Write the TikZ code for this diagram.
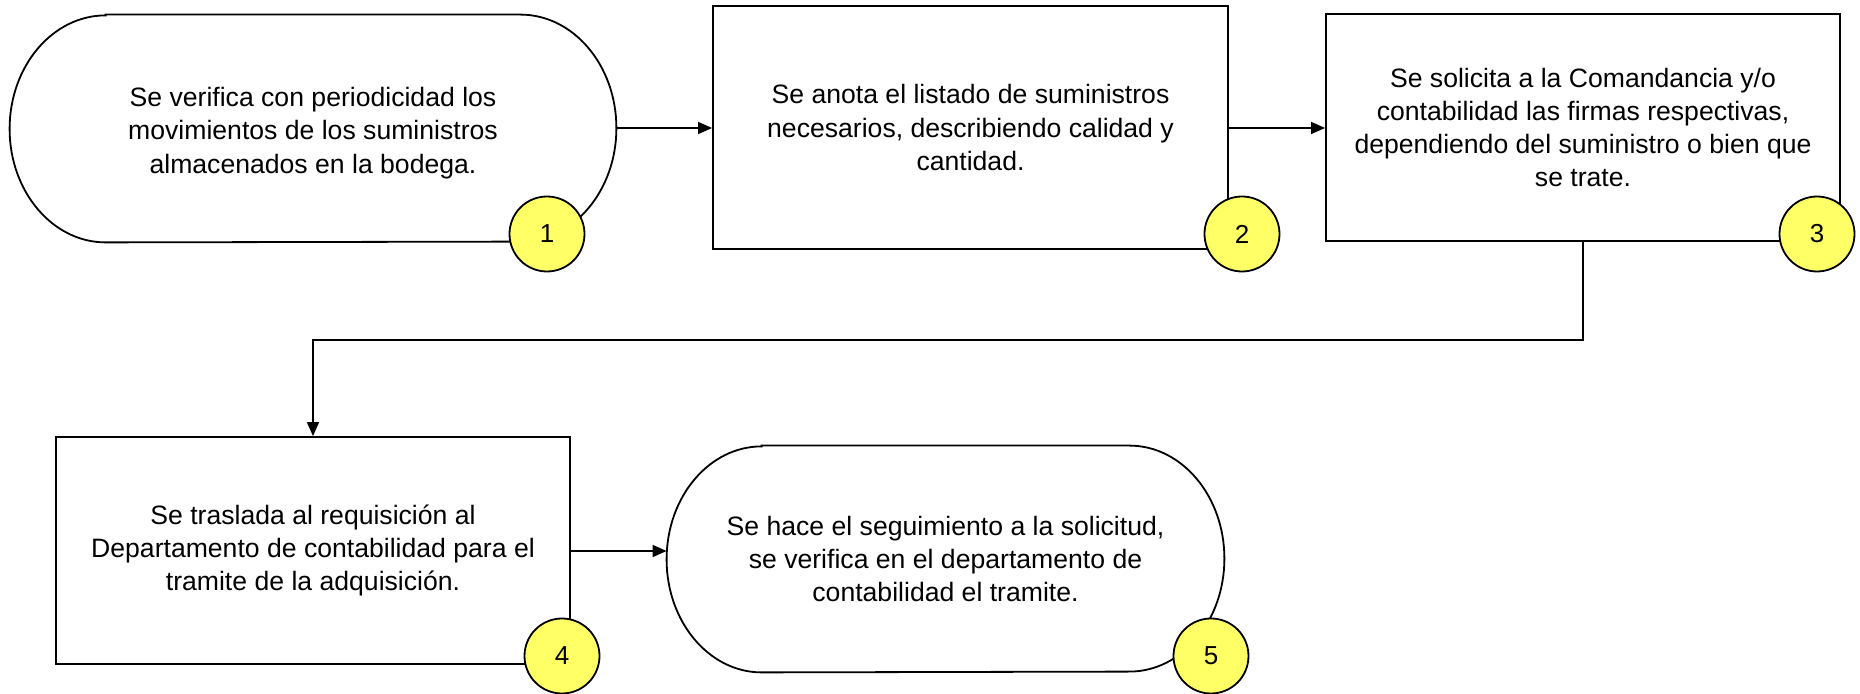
\documentclass[tikz,border=0pt]{standalone}
\usepackage{fontspec}
\setmainfont{Liberation Sans}
\usetikzlibrary{arrows.meta,calc}
\definecolor{badgeyellow}{RGB}{255,255,102}
\tikzset{
  ghost/.style={inner sep=0pt},
  txt/.style={align=center, font=\fontsize{13.3pt}{16.6pt}\selectfont},
  badge/.style={circle, draw, line width=0.9pt, fill=badgeyellow, minimum size=37.5pt, inner sep=0pt, font=\fontsize{13pt}{15pt}\selectfont},
  arr/.style={line width=0.8pt, -{Triangle[length=7pt,width=6pt]}},
  outline/.style={line width=0.9pt},
  boxed/.style={draw, line width=0.9pt, inner sep=0pt}
}
\begin{document}
\begin{tikzpicture}[x=0.5pt,y=-0.5pt]
\useasboundingbox (0,0) rectangle (1860,694);
% terminal 1
\node[ghost, minimum width=303pt, minimum height=113.5pt] (n1) at (313,128.5) {};
\node[txt] (t1) at (313,133)
  {Se verifica con periodicidad los\\movimientos de los suministros\\almacenados en la bodega.};
\draw[outline] ([xshift=48pt]n1.north west) -- ([xshift=-48pt]n1.north east)
  arc[start angle=90, end angle=-90, x radius=48pt, y radius=56.75pt]
  -- ([xshift=48pt]n1.south west)
  arc[start angle=270, end angle=90, x radius=48pt, y radius=56.75pt] -- cycle;
% box 2
\node[boxed, txt, minimum width=257.5pt, minimum height=121.5pt] (n2) at (970.5,127.5)
  {Se anota el listado de suministros\\necesarios, describiendo calidad y\\cantidad.};
% box 3
\node[boxed, txt, minimum width=257pt, minimum height=113.5pt] (n3) at (1583,127.5)
  {Se solicita a la Comandancia y/o\\contabilidad las firmas respectivas,\\dependiendo del suministro o bien que\\se trate.};
% box 4
\node[boxed, txt, minimum width=257pt, minimum height=113.5pt] (n4) at (313,550.5)
  {Se traslada al requisición al\\Departamento de contabilidad para el\\tramite de la adquisición.};
% terminal 5
\node[ghost, txt, minimum width=278.5pt, minimum height=113pt] (n5) at (945.5,559)
  {Se hace el seguimiento a la solicitud,\\se verifica en el departamento de\\contabilidad el tramite.};
\draw[outline] ([xshift=47.5pt]n5.north west) -- ([xshift=-47.5pt]n5.north east)
  arc[start angle=90, end angle=-90, x radius=47.5pt, y radius=56.5pt]
  -- ([xshift=47.5pt]n5.south west)
  arc[start angle=270, end angle=90, x radius=47.5pt, y radius=56.5pt] -- cycle;
% connectors
\draw[arr] (n1.east |- 0,128) -- (n2.west |- 0,128);
\draw[arr] (n2.east |- 0,128) -- (n3.west |- 0,128);
\draw[arr] (n3.south) -- ++(0,98) -| (n4.north);
\draw[arr] (n4.east |- 0,551) -- (n5.west |- 0,551);
% badges
\node[badge] (c1) at (547,234) {1};
\node[badge] (c2) at (1242,234) {2};
\node[badge] (c3) at (1817,234) {3};
\node[badge] (c4) at (562,656) {4};
\node[badge] (c5) at (1211,656) {5};
\end{tikzpicture}
\end{document}
